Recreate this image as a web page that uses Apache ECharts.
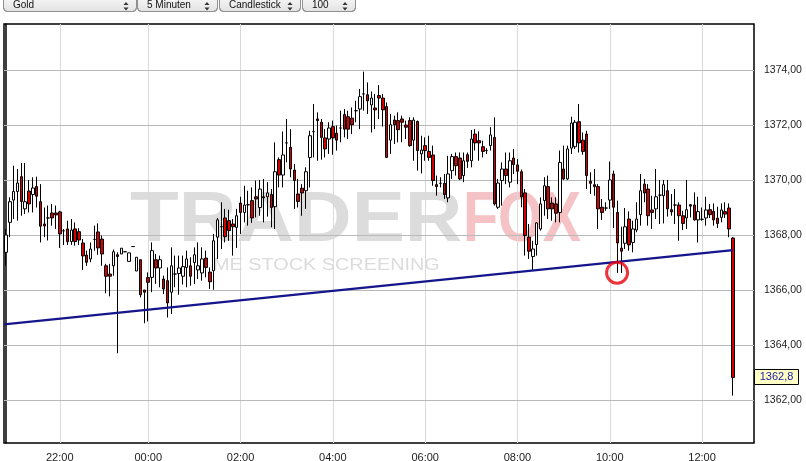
<!DOCTYPE html>
<html><head><meta charset="utf-8">
<script src="https://cdn.jsdelivr.net/npm/echarts@6/dist/echarts.min.js"></script>
<style>html,body{margin:0;padding:0;background:#fff}#c{width:806px;height:461px}</style>
</head><body><div id="c"></div><script>
// ---- data (5-minute Gold candles, slot index from 20:50) ----
const opens = [
1367.37,1368.46,1369.27,1369.58,1370.12,1368.95,1369.60,1369.47,1369.76,1369.21,
1368.40,1368.62,1368.80,1368.80,1368.84,1368.15,1368.22,1367.76,1368.22,1368.12,
1367.71,1367.27,1367.13,1367.84,1368.11,1367.85,1366.88,1366.58,1366.88,1367.28,
1367.31,1367.39,1367.04,1367.58,1366.69,1367.10,1366.00,1366.45,1366.46,1367.10,
1366.80,1366.40,1366.34,1365.92,1366.58,1366.60,1366.50,1366.82,1366.88,1367.00,
1366.73,1366.62,1367.16,1366.65,1366.70,1367.92,1368.30,1368.62,1368.52,1368.40,
1368.28,1369.16,1368.82,1369.10,1369.25,1369.39,1369.00,1369.39,1369.39,1369.47,
1369.03,1370.74,1370.18,1371.35,1371.19,1370.36,1369.49,1369.70,1369.61,1370.82,
1371.76,1372.22,1372.10,1371.53,1371.49,1371.94,1371.70,1371.89,1372.38,1372.30,
1372.25,1372.52,1372.58,1373.13,1373.10,1372.73,1372.62,1373.07,1372.98,1372.67,
1371.45,1372.18,1372.16,1372.22,1372.00,1372.16,1371.45,1372.13,1370.95,1371.25,
1371.04,1370.91,1369.83,1369.88,1369.88,1369.35,1370.34,1370.85,1370.80,1370.16,
1370.92,1370.70,1371.67,1371.43,1371.21,1371.07,1371.25,1371.55,1369.01,1369.98,
1370.40,1369.92,1370.80,1370.55,1370.30,1369.53,1367.92,1367.22,1367.65,1368.22,
1369.25,1369.76,1369.16,1369.13,1368.82,1370.40,1370.04,1371.16,1371.21,1372.12,
1371.45,1371.67,1369.95,1369.83,1369.76,1369.01,1368.98,1369.27,1370.22,1368.82,
1367.52,1367.70,1368.58,1367.73,1368.18,1368.74,1369.85,1369.67,1368.91,1368.95,
1369.45,1369.43,1369.61,1368.92,1369.09,1369.09,1368.70,1368.62,1369.10,1369.09,
1368.55,1368.57,1368.62,1368.92,1368.86,1368.61,1368.64,1368.85,1368.98,1367.89];
const closes = [
1368.00,1369.21,1369.58,1369.89,1369.22,1369.21,1369.13,1369.71,1369.41,1368.32,
1368.33,1368.62,1368.62,1368.73,1368.04,1368.15,1367.76,1368.18,1367.76,1367.82,
1367.24,1367.01,1367.49,1367.84,1367.53,1367.31,1366.50,1366.50,1367.39,1367.22,
1367.52,1367.39,1367.35,1367.58,1367.19,1365.83,1365.92,1366.28,1367.43,1366.80,
1367.10,1366.04,1365.53,1366.88,1366.58,1366.80,1366.85,1367.13,1366.50,1367.28,
1366.88,1367.13,1366.82,1366.30,1367.79,1368.55,1368.30,1367.94,1368.16,1368.30,
1368.70,1368.82,1369.09,1369.10,1368.62,1369.31,1369.67,1369.35,1369.53,1369.00,
1370.30,1370.18,1370.91,1371.35,1370.40,1369.98,1369.22,1369.53,1370.30,1371.61,
1371.76,1372.16,1371.55,1371.13,1371.89,1371.53,1371.45,1371.89,1371.85,1371.85,
1372.01,1372.52,1373.03,1373.13,1372.88,1372.98,1372.55,1372.98,1372.55,1370.82,
1372.01,1372.01,1371.83,1372.10,1371.92,1371.25,1372.18,1371.07,1371.09,1371.07,
1370.82,1369.98,1369.76,1369.88,1369.47,1370.22,1370.85,1370.52,1370.04,1370.70,
1370.68,1371.49,1371.35,1371.35,1371.04,1371.07,1371.64,1369.13,1369.89,1370.40,
1370.16,1370.70,1370.56,1370.32,1369.39,1367.98,1367.41,1367.49,1368.44,1369.13,
1369.79,1368.95,1368.95,1368.79,1370.64,1370.04,1371.13,1372.07,1372.10,1371.35,
1371.04,1370.16,1369.88,1369.76,1368.95,1368.82,1368.98,1370.00,1369.01,1367.71,
1367.41,1368.30,1367.64,1368.22,1368.58,1369.61,1369.53,1368.70,1368.82,1369.39,
1369.45,1369.83,1368.95,1368.84,1369.09,1368.70,1368.42,1368.92,1369.05,1368.55,
1368.85,1368.57,1368.91,1368.74,1368.55,1368.42,1368.91,1368.76,1368.22,1362.82];
const lows = [
1366.88,1367.92,1368.58,1368.52,1368.70,1368.76,1368.82,1368.82,1369.00,1367.73,
1367.92,1367.80,1368.34,1368.22,1367.53,1367.64,1367.64,1367.64,1367.61,1367.64,
1366.73,1366.88,1367.01,1367.43,1367.28,1366.88,1365.88,1365.77,1366.52,1363.70,
1367.31,1367.39,1367.04,1367.58,1366.69,1365.73,1364.79,1364.86,1365.92,1366.22,
1366.10,1365.85,1365.00,1365.13,1366.10,1365.83,1366.20,1366.10,1366.16,1366.22,
1366.40,1366.34,1366.46,1366.04,1366.01,1367.13,1367.49,1367.73,1367.79,1367.25,
1367.53,1368.04,1368.46,1368.34,1368.44,1368.64,1368.70,1368.46,1368.67,1368.28,
1368.22,1369.73,1369.73,1370.64,1370.10,1368.95,1369.00,1368.70,1368.95,1369.73,
1370.82,1370.70,1370.74,1370.82,1370.95,1370.92,1371.07,1371.37,1371.55,1371.49,
1371.67,1372.10,1371.85,1372.52,1372.40,1371.73,1371.85,1372.22,1371.94,1370.82,
1370.95,1371.31,1371.37,1371.37,1371.49,1371.21,1370.70,1370.34,1370.24,1370.70,
1370.70,1369.79,1369.43,1369.73,1369.31,1369.19,1370.04,1370.16,1370.00,1369.92,
1370.44,1370.46,1371.07,1370.70,1370.82,1370.95,1371.07,1369.07,1368.95,1369.07,
1369.85,1369.73,1370.22,1369.85,1369.01,1367.25,1367.13,1366.70,1367.25,1368.16,
1368.70,1368.58,1368.52,1368.46,1368.46,1370.00,1370.00,1370.95,1371.13,1371.00,
1370.92,1369.67,1369.49,1369.43,1368.22,1368.55,1368.88,1368.95,1368.25,1366.62,
1366.62,1367.49,1367.43,1367.37,1368.10,1368.34,1369.19,1368.34,1368.22,1368.58,
1368.40,1368.42,1368.67,1368.70,1368.40,1367.79,1368.18,1368.22,1368.64,1368.52,
1367.73,1368.52,1368.34,1368.62,1368.34,1368.25,1368.46,1368.62,1367.92,1362.16];
const highs = [
1368.22,1369.37,1370.52,1370.40,1370.62,1370.62,1370.00,1370.10,1370.12,1369.85,
1369.00,1369.07,1369.13,1369.07,1368.88,1368.22,1368.52,1368.58,1368.46,1368.25,
1367.85,1367.43,1367.73,1368.34,1368.42,1367.98,1366.95,1366.95,1367.47,1367.37,
1367.52,1367.39,1367.35,1367.58,1367.19,1367.10,1366.00,1366.64,1367.73,1367.31,
1367.25,1366.52,1366.82,1367.55,1367.25,1367.25,1367.25,1367.43,1367.19,1367.55,
1367.73,1367.55,1367.43,1366.82,1368.04,1368.62,1369.19,1368.95,1368.92,1368.58,
1368.95,1369.39,1369.79,1369.61,1369.73,1369.98,1370.00,1370.04,1369.92,1369.67,
1371.37,1370.82,1371.76,1372.22,1371.85,1370.58,1370.04,1369.85,1370.46,1371.79,
1372.76,1372.46,1372.22,1371.85,1372.10,1372.16,1371.98,1372.52,1372.58,1372.52,
1372.64,1372.88,1373.31,1373.94,1373.55,1373.22,1373.13,1373.45,1373.13,1372.82,
1372.40,1372.34,1372.46,1372.34,1372.16,1372.28,1372.28,1372.16,1371.61,1371.55,
1371.61,1371.25,1370.16,1370.10,1370.22,1370.88,1370.95,1371.00,1371.00,1371.00,
1371.00,1371.82,1371.85,1371.77,1371.43,1371.16,1371.92,1372.28,1370.04,1370.64,
1371.00,1371.00,1371.13,1370.76,1370.38,1369.67,1368.40,1367.79,1368.46,1369.37,
1370.10,1370.16,1369.37,1369.37,1371.07,1371.25,1371.25,1372.30,1372.18,1372.76,
1371.73,1371.79,1370.28,1370.40,1369.85,1369.31,1369.19,1370.67,1370.34,1369.25,
1368.30,1368.98,1368.86,1368.52,1369.19,1370.22,1370.04,1369.85,1369.43,1370.40,
1370.00,1370.00,1370.00,1369.49,1369.67,1369.19,1368.88,1370.00,1369.13,1369.55,
1369.39,1369.00,1369.39,1369.13,1369.15,1369.03,1369.15,1369.19,1369.15,1367.92];

// x tick labels (slot index of each label)
const timeTickIdx = [14, 37, 61, 85, 109, 133, 157, 181];
const timeLabels  = ['22:00','00:00','02:00','04:00','06:00','08:00','10:00','12:00'];
const priceTicks  = [1362, 1364, 1366, 1368, 1370, 1372, 1374];
// trend line (slot index, price) and marked low
const trendX = [-0.5, 189];
const trendY = [1364.75, 1367.45];
const markX = [158.9];
const markY = [1366.63];
const controlLabels = ['Gold', '5 Minuten', 'Candlestick', '100'];
const watermarkParts = ['TRADER', 'FOX', 'ME STOCK SCREENING'];

// ---- build ----
const candleData = opens.map((o, i) => [i, o, closes[i], lows[i], highs[i]]);
const lastPrice = closes[closes.length - 1];
const FONT = '"Liberation Sans", Arial, sans-serif';

const ctrlLeft = [3, 137, 219, 302], ctrlWidth = [133, 80, 81, 53];
const graphics = [];
controlLabels.forEach((lab, k) => {
  const L = ctrlLeft[k], W = ctrlWidth[k], ax = L + W - 10;
  graphics.push({type:'rect', z:20, shape:{x:L + 0.5, y:-8.5, width:W, height:20, r:4},
    style:{fill:{type:'linear',x:0,y:0,x2:0,y2:1,colorStops:[{offset:0,color:'#ffffff'},{offset:1,color:'#e2e2e2'}]}, stroke:'#8f8f8f', lineWidth:1}});
  graphics.push({type:'text', z:21, x:L + 10, y:5.5, style:{text:lab, font:'10px ' + FONT, fill:'#111', verticalAlign:'middle'}});
  graphics.push({type:'polygon', z:21, shape:{points:[[ax-2.5,5],[ax+2.5,5],[ax,2]]}, style:{fill:'#333'}});
  graphics.push({type:'polygon', z:21, shape:{points:[[ax-2.5,7.5],[ax+2.5,7.5],[ax,10.5]]}, style:{fill:'#333'}});
});
graphics.push({type:'text', z:-5, x:130, y:222, scaleX:1.14, style:{text:watermarkParts[0], font:'bold 70px ' + FONT, fill:'#dcdcdc', verticalAlign:'middle'}});
graphics.push({type:'text', z:-5, x:463, y:222, scaleX:0.82, style:{text:watermarkParts[1], font:'bold 70px ' + FONT, fill:'#f5c3c5', verticalAlign:'middle'}});
graphics.push({type:'text', z:-5, x:213, y:266, scaleX:1.24, style:{text:watermarkParts[2], font:'16px ' + FONT, fill:'#dcdcdc', verticalAlign:'middle'}});

const gridLines = [];
timeTickIdx.forEach(v => gridLines.push({xAxis: v, lineStyle:{color:'#dadada', width:1, type:'solid'}}));
priceTicks.forEach(v => gridLines.push({yAxis: v, lineStyle:{color:'#b9b9b9', width:1, type:'solid'}}));

const chart = echarts.init(document.getElementById('c'), null, {renderer:'canvas'});
chart.setOption({
  animation: false,
  backgroundColor: '#ffffff',
  textStyle: {fontFamily: FONT},
  graphic: {elements: graphics},
  grid: {left: 4, right: 52, top: 24, bottom: 18, show: true, borderColor: '#000', borderWidth: 1.5,
         backgroundColor: 'transparent', containLabel: false, outerBoundsMode: 'none'},
  xAxis: {
    type: 'value', min: -0.5, max: 194.5,
    axisLine: {show: false}, axisTick: {show: false}, splitLine: {show: false},
    axisLabel: {customValues: timeTickIdx, margin: 9, fontSize: 11, color: '#222',
      formatter: v => timeLabels[timeTickIdx.indexOf(v)] || ''}
  },
  yAxis: {
    type: 'value', position: 'right', min: 1360.436, max: 1375.673, scale: true,
    axisLine: {show: true, lineStyle: {color: '#000', width: 1.5}},
    axisTick: {show: true, customValues: priceTicks, length: 5, lineStyle: {color: '#999'}},
    splitLine: {show: false},
    axisLabel: {customValues: priceTicks, margin: 10, fontSize: 10.5, color: '#222',
      formatter: v => v.toFixed(2).replace('.', ',')}
  },
  series: [
    {type: 'line', name: 'grid', data: [], z: 1, silent: true,
     markLine: {silent: true, z: 1, symbol: ['none', 'none'], label: {show: false}, data: gridLines}},
    {type: 'candlestick', name: 'Gold', data: candleData, barWidth: 3, z: 3,
     itemStyle: {color: '#ffffff', color0: '#d40000', borderColor: '#000', borderColor0: '#000', borderWidth: 1}},
    {type: 'line', name: 'trend', data: trendX.map((x, i) => [x, trendY[i]]), z: 4, symbol: 'none',
     lineStyle: {color: '#15158c', width: 2.5}},
    {type: 'scatter', name: 'mark', data: markX.map((x, i) => [x, markY[i]]), z: 5, symbol: 'circle', symbolSize: 21,
     itemStyle: {color: 'rgba(0,0,0,0)', borderColor: '#e8000b', borderWidth: 3}}
  ]
});

// last price box on the price axis, placed through the chart's own y scale
const yPix = chart.convertToPixel({yAxisIndex: 0}, lastPrice);
graphics.push({type:'rect', z:30, shape:{x:754.5, y:Math.round(yPix) - 7.5, width:44, height:15},
  style:{fill:'#ffffc6', stroke:'#000', lineWidth:1}});
graphics.push({type:'text', z:31, x:776.5, y:Math.round(yPix), style:{text:lastPrice.toFixed(1).replace('.', ','),
  font:'11px ' + FONT, fill:'#1a1aa8', align:'center', verticalAlign:'middle'}});
chart.setOption({graphic: {elements: graphics}});
</script></body></html>
